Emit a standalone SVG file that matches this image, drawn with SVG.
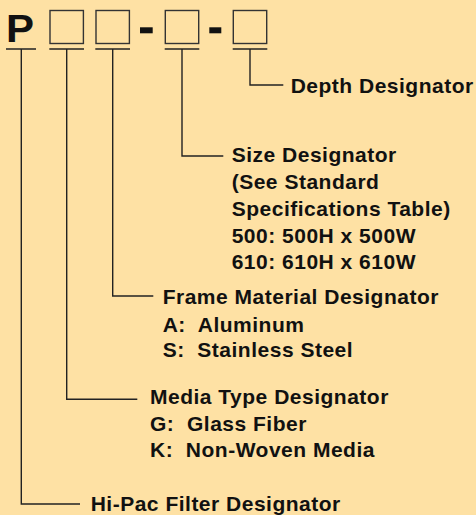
<svg xmlns="http://www.w3.org/2000/svg" width="476" height="515" viewBox="0 0 476 515">
<style>
.t{font-family:"Liberation Sans",Arial,sans-serif;font-weight:bold;font-size:21px;letter-spacing:0.5px;fill:#111;white-space:pre}
.ln{fill:none;stroke:#222;stroke-width:1.4}
.box{fill:none;stroke:#333;stroke-width:1.4}
</style>
<rect x="0" y="0" width="476" height="515" fill="#FEE1A4"/>
<g id="code">
<text x="6" y="41.5" font-family="Liberation Sans,Arial,sans-serif" font-weight="bold" font-size="39" fill="#111" textLength="28" lengthAdjust="spacingAndGlyphs">P</text>
<rect class="box" x="50" y="10.5" width="33.4" height="33"/>
<rect class="box" x="96" y="10.5" width="33.4" height="33"/>
<rect x="140" y="27.3" width="12.7" height="6" fill="#111"/>
<rect class="box" x="165.3" y="10.5" width="33.4" height="33"/>
<rect x="209.3" y="27.3" width="12" height="6" fill="#111"/>
<rect class="box" x="233.3" y="10.5" width="33.4" height="33"/>
</g>
<g id="connectors">
<path class="ln" d="M6 49H36M49.3 49H84M95.3 49H130M164.7 49H199.3M232.7 49H267.3"/>
<path class="ln" d="M21.3 49V504H80"/>
<path class="ln" d="M66.7 49V399.3H137.3"/>
<path class="ln" d="M112.7 49V296H153.3"/>
<path class="ln" d="M182 49V156H223.3"/>
<path class="ln" d="M250 49V85H283.3"/>
</g>
<g id="depth">
<text class="t" x="290.7" y="92.5">Depth Designator</text>
</g>
<g id="size">
<text class="t" x="231.7" y="161.7">Size Designator</text>
<text class="t" x="231.7" y="189.3">(See Standard</text>
<text class="t" x="231.7" y="216">Specifications Table)</text>
<text class="t" x="231.7" y="242.7">500: 500H x 500W</text>
<text class="t" x="231.7" y="269.3">610: 610H x 610W</text>
</g>
<g id="frame">
<text class="t" x="162.7" y="304">Frame Material Designator</text>
<text class="t" x="162.7" y="331.5">A:  Aluminum</text>
<text class="t" x="162.7" y="357.3">S:  Stainless Steel</text>
</g>
<g id="media">
<text class="t" x="150" y="404.3">Media Type Designator</text>
<text class="t" x="150" y="430.7">G:  Glass Fiber</text>
<text class="t" x="150" y="457.3">K:  Non-Woven Media</text>
</g>
<g id="hipac">
<text class="t" x="90.7" y="510.5">Hi-Pac Filter Designator</text>
</g>
</svg>
